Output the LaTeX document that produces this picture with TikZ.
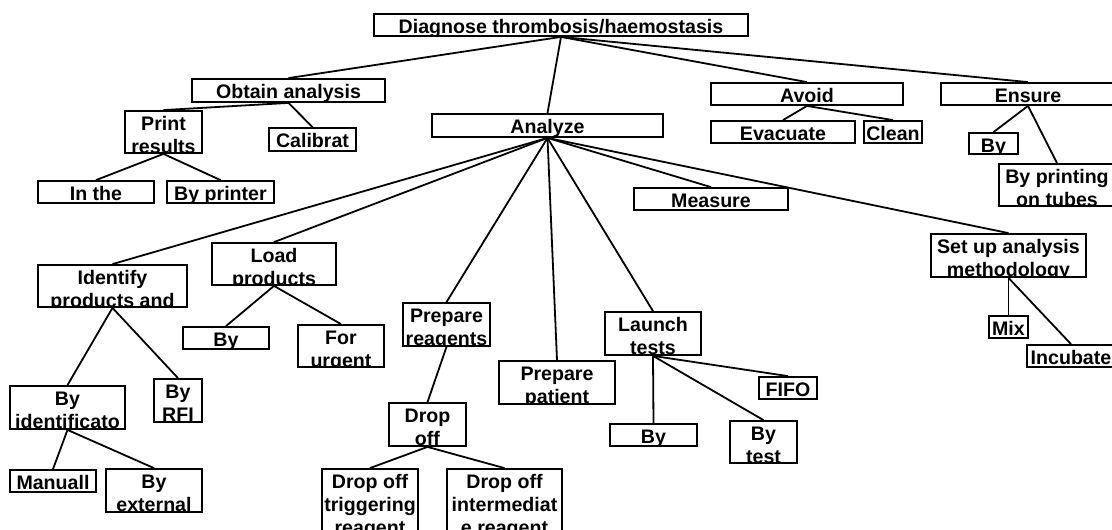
\documentclass[tikz,border=0pt]{standalone}
\usepackage{fontspec}
\setmainfont{Liberation Sans}
\usepackage{tikz}
\usetikzlibrary{positioning,calc}

\begin{document}
\begin{tikzpicture}[
  x=1pt, y=-1pt,
  tbox/.style={draw=black, line width=1.8pt, rectangle, inner sep=0pt},
  lbltext/.style={font=\fontsize{19.6}{22.8}\selectfont\bfseries, inner sep=0pt, anchor=base},
  txt/.style={path picture={\node[lbltext] at ([yshift=-19.5pt]path picture bounding box.north)
      {\begin{tabular}[t]{@{}c@{}}#1\end{tabular}};}},
  treeedge/.style={draw=black, line width=1.8pt}
]
\useasboundingbox (0,0) rectangle (1112,530);
\clip (0,0) rectangle (1112,530);

% top levels
\node[tbox, minimum width=374, minimum height=22, txt={Diagnose thrombosis/haemostasis}] (diag) at (561,25) {};
\node[tbox, minimum width=193, minimum height=23, txt={Obtain analysis}] (obtain) at (288.5,90.5) {};
\node[tbox, minimum width=231, minimum height=23, txt={Analyze}] (analyze) at (547.5,125.5) {};
\node[tbox, minimum width=192, minimum height=22, txt={Avoid}] (avoid) at (807,94) {};
\node[tbox, minimum width=174, minimum height=22, txt={Ensure}] (ensure) at (1028,94) {};

\node[tbox, minimum width=77, minimum height=42, txt={Print\\results}] (print) at (163.5,132) {};
\node[tbox, minimum width=87, minimum height=23, txt={Calibrat}] (calib) at (312.5,139.5) {};
\node[tbox, minimum width=116, minimum height=22, txt={In the}] (inthe) at (96,192) {};
\node[tbox, minimum width=107, minimum height=22, txt={By printer}] (byprinter) at (220.5,192) {};
\node[tbox, minimum width=144, minimum height=22, txt={Evacuate}] (evac) at (783,132) {};
\node[tbox, minimum width=58, minimum height=22, txt={Clean}] (clean) at (893,132) {};
\node[tbox, minimum width=49, minimum height=21, txt={By}] (ensby) at (993.5,143.5) {};
\node[tbox, minimum width=116, minimum height=42, txt={By printing\\on tubes}] (bypt) at (1057,185) {};

% under Analyze
\node[tbox, minimum width=154, minimum height=22, txt={Measure}] (measure) at (711,199) {};
\node[tbox, minimum width=149, minimum height=42, txt={Identify\\products and}] (identify) at (112.5,286) {};
\node[tbox, minimum width=124, minimum height=42, txt={Load\\products}] (load) at (274,264) {};
\node[tbox, minimum width=86, minimum height=22, txt={By}] (loadby) at (226,338) {};
\node[tbox, minimum width=86, minimum height=42, txt={For\\urgent}] (urgent) at (341,346) {};
\node[tbox, minimum width=87, minimum height=43, txt={Prepare\\reagents}] (prepreag) at (446.5,324.5) {};
\node[tbox, minimum width=116, minimum height=43, txt={Prepare\\patient}] (preppat) at (557,382.5) {};
\node[tbox, minimum width=96, minimum height=43, txt={Launch\\tests}] (launch) at (653,333.5) {};
\node[tbox, minimum width=155, minimum height=43, txt={Set up analysis\\methodology}] (setup) at (1008.5,255.5) {};

\node[tbox, minimum width=115, minimum height=43, txt={By\\identificato}] (byident) at (67.5,407.5) {};
\node[tbox, minimum width=48, minimum height=43, txt={By\\RFI}] (byrfi) at (178,400.5) {};
\node[tbox, minimum width=86, minimum height=22, txt={Manuall}] (manuall) at (53,481) {};
\node[tbox, minimum width=96, minimum height=43, txt={By\\external}] (byext) at (154,490.5) {};

\node[tbox, minimum width=77, minimum height=43, txt={Drop\\off}] (drop) at (427.5,424.5) {};
\node[tbox, minimum width=96, minimum height=64, txt={Drop off\\triggering\\reagent}] (trig) at (370,501) {};
\node[tbox, minimum width=115, minimum height=64, txt={Drop off\\intermediat\\e reagent}] (inter) at (504.5,501) {};

\node[tbox, minimum width=58, minimum height=22, txt={FIFO}] (fifo) at (788,388) {};
\node[tbox, minimum width=87, minimum height=22, txt={By}] (launchby) at (653.5,435) {};
\node[tbox, minimum width=67, minimum height=42, txt={By\\test}] (bytest) at (763.5,442) {};

\node[tbox, minimum width=39, minimum height=22, txt={Mix}] (mix) at (1008.5,327) {};
\node[tbox, minimum width=88, minimum height=22, txt={Incubate}] (incub) at (1071,356) {};

% connectors
\foreach \c in {obtain,analyze,avoid,ensure}
  \draw[treeedge] (diag.south) -- (\c.north);
\foreach \c in {print,calib}
  \draw[treeedge] (obtain.south) -- (\c.north);
\foreach \c in {inthe,byprinter}
  \draw[treeedge] (print.south) -- (\c.north);
\foreach \c in {evac,clean}
  \draw[treeedge] (avoid.south) -- (\c.north);
\foreach \c in {ensby,bypt}
  \draw[treeedge] (ensure.south) -- (\c.north);
\foreach \c in {identify,load,prepreag,preppat,launch,measure,setup}
  \draw[treeedge] (analyze.south) -- (\c.north);
\foreach \c in {byident,byrfi}
  \draw[treeedge] (identify.south) -- (\c.north);
\foreach \c in {manuall,byext}
  \draw[treeedge] (byident.south) -- (\c.north);
\foreach \c in {loadby,urgent}
  \draw[treeedge] (load.south) -- (\c.north);
\draw[treeedge] (prepreag.south) -- (drop.north);
\foreach \c in {trig,inter}
  \draw[treeedge] (drop.south) -- (\c.north);
\foreach \c in {launchby,fifo,bytest}
  \draw[treeedge] (launch.south) -- (\c.north);
\foreach \c in {mix,incub}
  \draw[treeedge] (setup.south) -- (\c.north);

\end{tikzpicture}
\end{document}
